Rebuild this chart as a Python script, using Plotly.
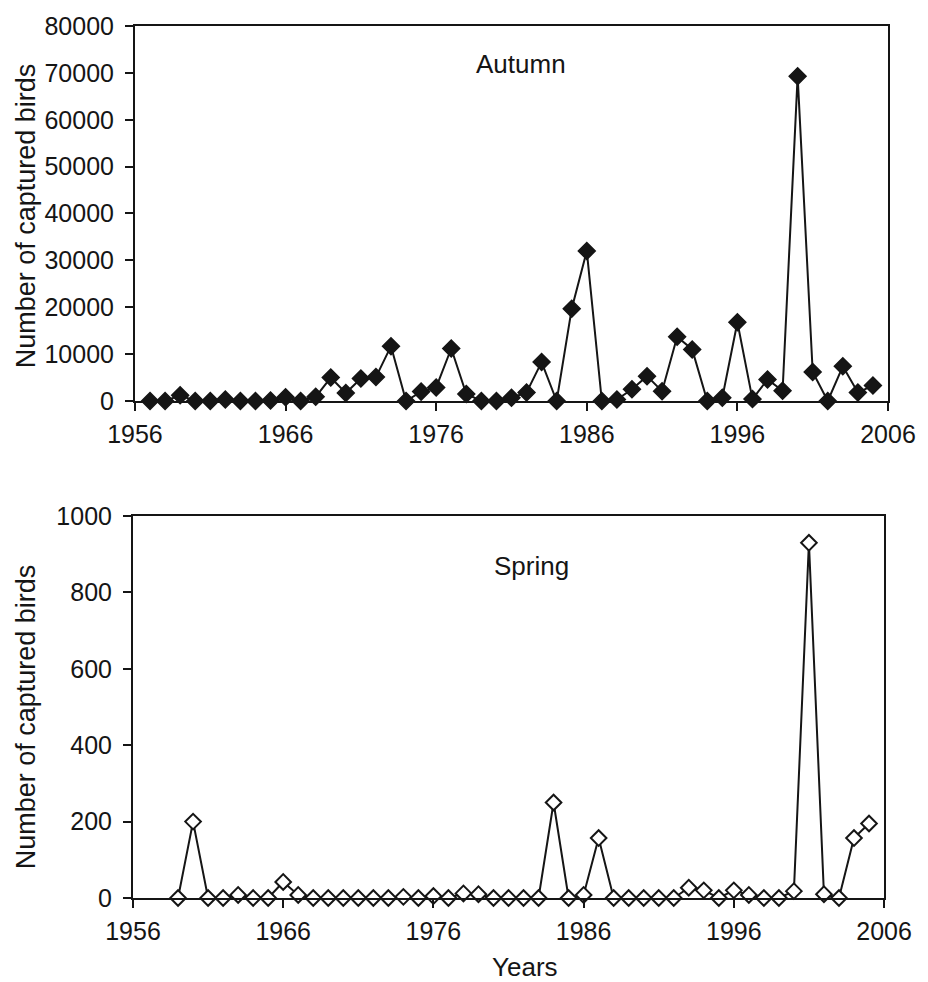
import plotly.graph_objects as go

# ---- data ----
autumn_years = [1957, 1958, 1959, 1960, 1961, 1962, 1963, 1964, 1965, 1966,
                1967, 1968, 1969, 1970, 1971, 1972, 1973, 1974, 1975, 1976,
                1977, 1978, 1979, 1980, 1981, 1982, 1983, 1984, 1985, 1986,
                1987, 1988, 1989, 1990, 1991, 1992, 1993, 1994, 1995, 1996,
                1997, 1998, 1999, 2000, 2001, 2002, 2003, 2004, 2005]
autumn_counts = [0, 0, 1200, 0, 0, 300, 0, 0, 100, 800,
                 0, 900, 5000, 1700, 4800, 5100, 11700, 0, 2000, 2900,
                 11200, 1500, 0, 0, 700, 1800, 8300, 0, 19700, 32000,
                 0, 300, 2500, 5300, 2100, 13700, 11000, 0, 700, 16800,
                 400, 4600, 2200, 69300, 6200, 0, 7400, 1800, 3300]

spring_years = [1959, 1960, 1961, 1962, 1963, 1964, 1965, 1966, 1967, 1968,
                1969, 1970, 1971, 1972, 1973, 1974, 1975, 1976, 1977, 1978,
                1979, 1980, 1981, 1982, 1983, 1984, 1985, 1986, 1987, 1988,
                1989, 1990, 1991, 1992, 1993, 1994, 1995, 1996, 1997, 1998,
                1999, 2000, 2001, 2002, 2003, 2004, 2005]
spring_counts = [0, 200, 0, 0, 8, 0, 0, 42, 8, 0,
                 0, 0, 0, 0, 0, 3, 0, 5, 0, 12,
                 10, 0, 0, 0, 0, 250, 0, 8, 157, 0,
                 0, 0, 0, 0, 27, 20, 0, 20, 8, 0,
                 0, 18, 930, 10, 0, 157, 195]

x_ticks = [1956, 1966, 1976, 1986, 1996, 2006]
autumn_yticks = [0, 10000, 20000, 30000, 40000, 50000, 60000, 70000, 80000]
spring_yticks = [0, 200, 400, 600, 800, 1000]

FONT = "Liberation Sans, Arial, sans-serif"
INK = "#151515"

fig = go.Figure()
fig.add_trace(go.Scatter(
    x=autumn_years, y=autumn_counts, mode="lines+markers",
    line=dict(color=INK, width=2),
    marker=dict(symbol="diamond", size=13, color=INK, line=dict(color=INK, width=1.5)),
    xaxis="x", yaxis="y", showlegend=False, cliponaxis=False))
fig.add_trace(go.Scatter(
    x=spring_years, y=spring_counts, mode="lines+markers",
    line=dict(color=INK, width=2),
    marker=dict(symbol="diamond", size=12, color="white", line=dict(color=INK, width=2)),
    xaxis="x2", yaxis="y2", showlegend=False, cliponaxis=False))

W, H = 928, 982
ml, mr, mt, mb = 131, 34, 19, 84
pw, ph = W - ml - mr, H - mt - mb


def px_x(p):
    return (p - ml) / pw


def px_y(p):
    return (H - mb - p) / ph


axis_common = dict(showline=True, mirror=True, linecolor=INK, linewidth=2,
                   ticks="outside", ticklen=8, tickwidth=2, tickcolor=INK,
                   showgrid=False, zeroline=False,
                   tickfont=dict(family=FONT, size=25, color=INK))

fig.update_layout(
    width=W, height=H,
    margin=dict(l=ml, r=mr, t=mt, b=mb),
    paper_bgcolor="white", plot_bgcolor="white",
    font=dict(family=FONT, size=25, color=INK),
    xaxis=dict(domain=[px_x(135), 1.0], range=[1956, 2006], tickvals=x_ticks,
               ticktext=[str(v) for v in x_ticks], anchor="y",
               ticklabelstandoff=2, **axis_common),
    yaxis=dict(domain=[px_y(397), 1.0], range=[0, 80000], tickvals=autumn_yticks,
               ticktext=[str(v) for v in autumn_yticks], anchor="x",
               ticklabelstandoff=6, **axis_common),
    xaxis2=dict(domain=[px_x(133), px_x(890)], range=[1956, 2006], tickvals=x_ticks,
                ticktext=[str(v) for v in x_ticks], anchor="y2",
                ticklabelstandoff=2, **axis_common),
    yaxis2=dict(domain=[0.0, px_y(513)], range=[0, 1000], tickvals=spring_yticks,
                ticktext=[str(v) for v in spring_yticks], anchor="x2",
                ticklabelstandoff=6, **axis_common),
    annotations=[
        dict(text="Autumn", xref="paper", yref="paper", x=px_x(524), y=px_y(57),
             xanchor="center", yanchor="middle",
             showarrow=False, font=dict(family=FONT, size=26, color=INK)),
        dict(text="Spring", xref="paper", yref="paper", x=px_x(535), y=px_y(563),
             xanchor="center", yanchor="middle",
             showarrow=False, font=dict(family=FONT, size=26, color=INK)),
        dict(text="Number of captured birds", xref="paper", yref="paper",
             x=px_x(26), y=px_y(210), textangle=-90, showarrow=False,
             xanchor="center", yanchor="middle",
             font=dict(family=FONT, size=27, color=INK)),
        dict(text="Number of captured birds", xref="paper", yref="paper",
             x=px_x(26), y=px_y(715), textangle=-90, showarrow=False,
             xanchor="center", yanchor="middle",
             font=dict(family=FONT, size=27, color=INK)),
        dict(text="Years", xref="paper", yref="paper", x=px_x(528), y=px_y(968),
             xanchor="center", yanchor="middle",
             showarrow=False, font=dict(family=FONT, size=26, color=INK)),
    ],
)

fig.write_html("out.html")
